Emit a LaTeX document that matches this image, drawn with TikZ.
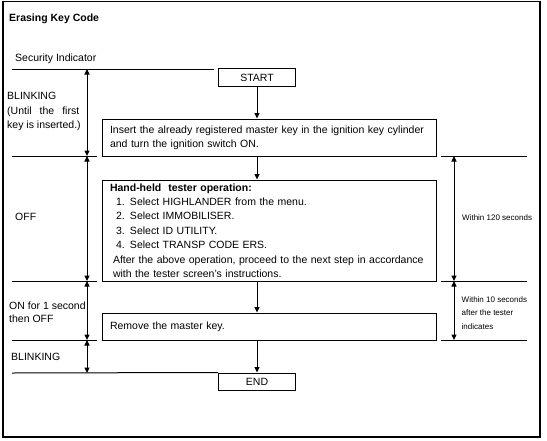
\documentclass[tikz,border=0pt]{standalone}
\usepackage{fontspec}
\setmainfont{Liberation Sans}
\usetikzlibrary{arrows.meta}

\begin{document}
\begin{tikzpicture}[x=1pt,y=-1pt,
		font=\fontsize{10.5}{14.4}\selectfont,
		block/.style={draw, line width=1pt, inner xsep=8pt, inner ysep=2pt, text width=318pt, minimum width=334pt, align=left},
		terminal/.style={draw, line width=1pt, minimum width=77pt, minimum height=18pt, inner sep=0pt},
		phase/.style={inner sep=0pt, align=left},
		timing/.style={inner sep=0pt, align=left, font=\fontsize{8}{13.5}\selectfont},
		flow/.style={line width=1pt, -{Triangle[length=5.5pt,width=5pt]}},
		span/.style={line width=1pt, {Triangle[length=5.5pt,width=5pt]}-{Triangle[length=5.5pt,width=5pt]}},
		rule/.style={line width=1pt}]
		\useasboundingbox (0,0) rectangle (547,440);
		\draw[line width=1.2pt] (3,1.5) rectangle (540,437);
		
		\node[phase, anchor=base west, font=\fontsize{10.5}{14.4}\selectfont\bfseries] (title) at (9,21) {Erasing Key Code};
		\node[phase, anchor=base west] (indicator) at (15,61.5) {Security Indicator};
		
		\node[terminal] (start) at (257,77.5) {START};
		\node[block, minimum height=37pt] (insert) at (269,137.5) {Insert the already registered master key in the ignition key cylinder\\and turn the ignition switch ON.};
		\node[block, minimum height=101pt] (tester) at (269,230.5) {\textbf{Hand-held\ \ tester operation:}\\
			\hspace*{6pt}1. Select HIGHLANDER from the menu.\\
			\hspace*{6pt}2. Select IMMOBILISER.\\
			\hspace*{6pt}3. Select ID UTILITY.\\
			\hspace*{6pt}4. Select TRANSP CODE ERS.\\
			\hspace*{3pt}After the above operation, proceed to the next step in accordance\\
			\hspace*{3pt}with the tester screen's instructions.};
		\node[block, minimum height=27pt] (remove) at (269,326.5) {Remove the master key.};
		\node[terminal, minimum height=17pt] (end) at (257,381.5) {END};
		
		\draw[flow] (start.south) -- (start.south |- insert.north);
		\draw[flow] (start.south |- insert.south) -- (start.south |- tester.north);
		\draw[flow] (start.south |- tester.south) -- (start.south |- remove.north);
		\draw[flow] (start.south |- remove.south) -- (end.north);
		
		\foreach \n/\y in {a/69,b/156,c/281,d/340,e/373}
			\coordinate (l\n) at (87,\y);
		\foreach \n/\y in {b/156,c/281,d/340}
			\coordinate (r\n) at (454,\y);
		
		\draw[rule] (12,69) -- (214,69);
		\foreach \y in {156,281,340} {
			\draw[rule] (12,\y) -- (97,\y);
			\draw[rule] (441,\y) -- (527,\y);
		}
		\draw[rule] (12,373) -- (end.north west);
		
		\draw[span] (la) -- (lb);
		\draw[span] (lb) -- (lc);
		\draw[span] (lc) -- (ld);
		\draw[span] (ld) -- (le);
		\draw[span] (rb) -- (rc);
		\draw[span] (rc) -- (rd);
		
		\node[phase, anchor=north west] (blink) at (7,92.4) {BLINKING\\\makebox[72pt][s]{(Until the first}\\key is inserted.)};
		\node[phase, anchor=base west] (off) at (15,220) {OFF};
		\node[phase, anchor=north west, font=\fontsize{10.5}{13.5}\selectfont] (onoff) at (9,301.4) {ON for 1 second\\then OFF};
		\node[phase, anchor=base west] (blinkend) at (11,360.5) {BLINKING};
		
		\node[timing, anchor=base west] (within120) at (462,220) {Within 120 seconds};
		\node[timing, anchor=north west] (within10) at (461.5,296.2) {Within 10 seconds\\after the tester\\indicates};
\end{tikzpicture}
\end{document}
